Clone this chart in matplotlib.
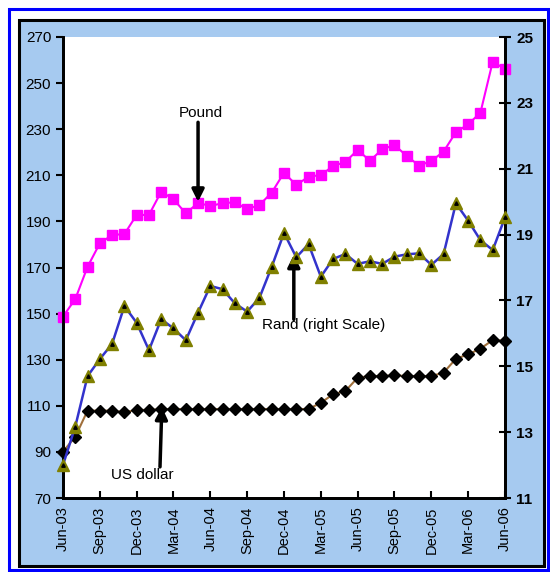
import matplotlib
matplotlib.use('Agg')
import matplotlib.pyplot as plt
from matplotlib.patches import Rectangle

plt.rcParams['font.family'] = ['Liberation Sans', 'DejaVu Sans']

# 月次データ (Jun-03 〜 Jun-06)
tick_labels = ['Jun-03', 'Sep-03', 'Dec-03', 'Mar-04', 'Jun-04', 'Sep-04', 'Dec-04',
               'Mar-05', 'Jun-05', 'Sep-05', 'Dec-05', 'Mar-06', 'Jun-06']

pound = [148.7, 156.3, 170.3, 180.5, 184.1, 184.5, 192.8, 192.8, 202.9, 199.6,
         193.5, 198.0, 196.7, 197.9, 198.3, 195.3, 197.1, 202.5, 211.1, 205.8,
         209.4, 210.1, 214.0, 215.8, 221.0, 216.3, 221.3, 223.1, 218.4, 214.2,
         216.2, 220.3, 228.7, 232.1, 237.2, 259.3, 256.1]

us_dollar = [90.1, 96.6, 107.9, 107.9, 107.9, 107.2, 108.2, 108.2, 108.5, 108.6,
             108.6, 108.6, 108.6, 108.6, 108.6, 108.6, 108.6, 108.6, 108.6, 108.6,
             108.6, 111.3, 115.0, 116.4, 122.2, 122.9, 122.9, 123.2, 122.9, 122.9,
             122.9, 124.4, 130.4, 132.3, 134.8, 138.5, 138.2]

# 右軸 (Rand)
rand = [12.00, 13.17, 14.70, 15.22, 15.68, 16.83, 16.32, 15.49, 16.43, 16.15,
        15.79, 16.63, 17.44, 17.34, 16.91, 16.66, 17.08, 18.02, 19.05, 18.31,
        18.71, 17.72, 18.26, 18.41, 18.11, 18.19, 18.11, 18.33, 18.40, 18.43,
        18.08, 18.41, 19.95, 19.42, 18.83, 18.53, 19.52]

x = list(range(len(pound)))

fig = plt.figure(figsize=(5.5, 5.72), dpi=100)
fig.patch.set_facecolor('white')

# 外枠 (青) とチャート領域 (水色)
fig.add_artist(Rectangle((9 / 550, 1 - 570 / 572), 539 / 550, 561 / 572,
                         transform=fig.transFigure, facecolor='none',
                         edgecolor='#0000ff', lw=2.2))
fig.add_artist(Rectangle((19 / 550, 1 - 566 / 572), 525 / 550, 546 / 572,
                         transform=fig.transFigure, facecolor='#a6caf0',
                         edgecolor='black', lw=2.2, zorder=0))

ax = fig.add_axes([63 / 550, 74 / 572, 442 / 550, 461 / 572])
ax.set_facecolor('white')
ax2 = ax.twinx()

ax.plot(x, us_dollar, color='#a0703c', lw=1.5, marker='D', ms=6,
        mfc='black', mec='black', clip_on=False, zorder=3)
ax.plot(x, pound, color='#ff00ff', lw=1.5, marker='s', ms=7.5,
        mfc='#ff00ff', mec='#ff00ff', clip_on=False, zorder=3)

ax2.plot(x, rand, color='#3333cc', lw=1.8, marker='^', ms=8.5,
         mfc='#808000', mec='#808000', clip_on=False, zorder=3)
ax2.plot(x, rand, ls='none', marker='^', ms=2.5, mfc='black', mec='black',
         clip_on=False, zorder=4)

ax.set_xlim(0, 36)
ax.set_ylim(70, 270)
ax.set_yticks(range(70, 271, 20))
ax2.set_ylim(11, 25)
ax2.set_yticks(range(11, 26, 2))

ax.set_xticks(range(0, 37, 3))
ax.set_xticklabels(tick_labels, rotation=90, fontsize=10.5)
ax.tick_params(axis='x', direction='in', length=5, width=1.5, pad=6)
ax.tick_params(axis='y', direction='out', length=5, width=1.5, labelsize=11)
ax2.tick_params(axis='y', direction='inout', length=9, width=1.5, labelsize=11)
for t in ax2.get_yticklabels():
    t.set_fontweight('bold')

for a in (ax, ax2):
    a.spines['top'].set_visible(False)
    for s in ('left', 'right', 'bottom'):
        a.spines[s].set_linewidth(2)

# 矢印付きラベル
arrow = dict(arrowstyle='-|>', lw=2.5, color='black', mutation_scale=18,
             shrinkA=0, shrinkB=0)
ax.text(11.2, 237, 'Pound', ha='center', va='center', fontsize=11)
ax.annotate('', xy=(11, 198.5), xytext=(11, 233), arrowprops=arrow, zorder=5)

ax.text(21.2, 145, 'Rand (right Scale)', ha='center', va='center', fontsize=11)
ax.annotate('', xy=(18.8, 175.5), xytext=(18.8, 147.5), arrowprops=arrow, zorder=5)

ax.text(6.5, 80, 'US dollar', ha='center', va='center', fontsize=11)
ax.annotate('', xy=(8.05, 109.5), xytext=(7.9, 83.5), arrowprops=arrow, zorder=5)

fig.savefig('out.png', dpi=100)
